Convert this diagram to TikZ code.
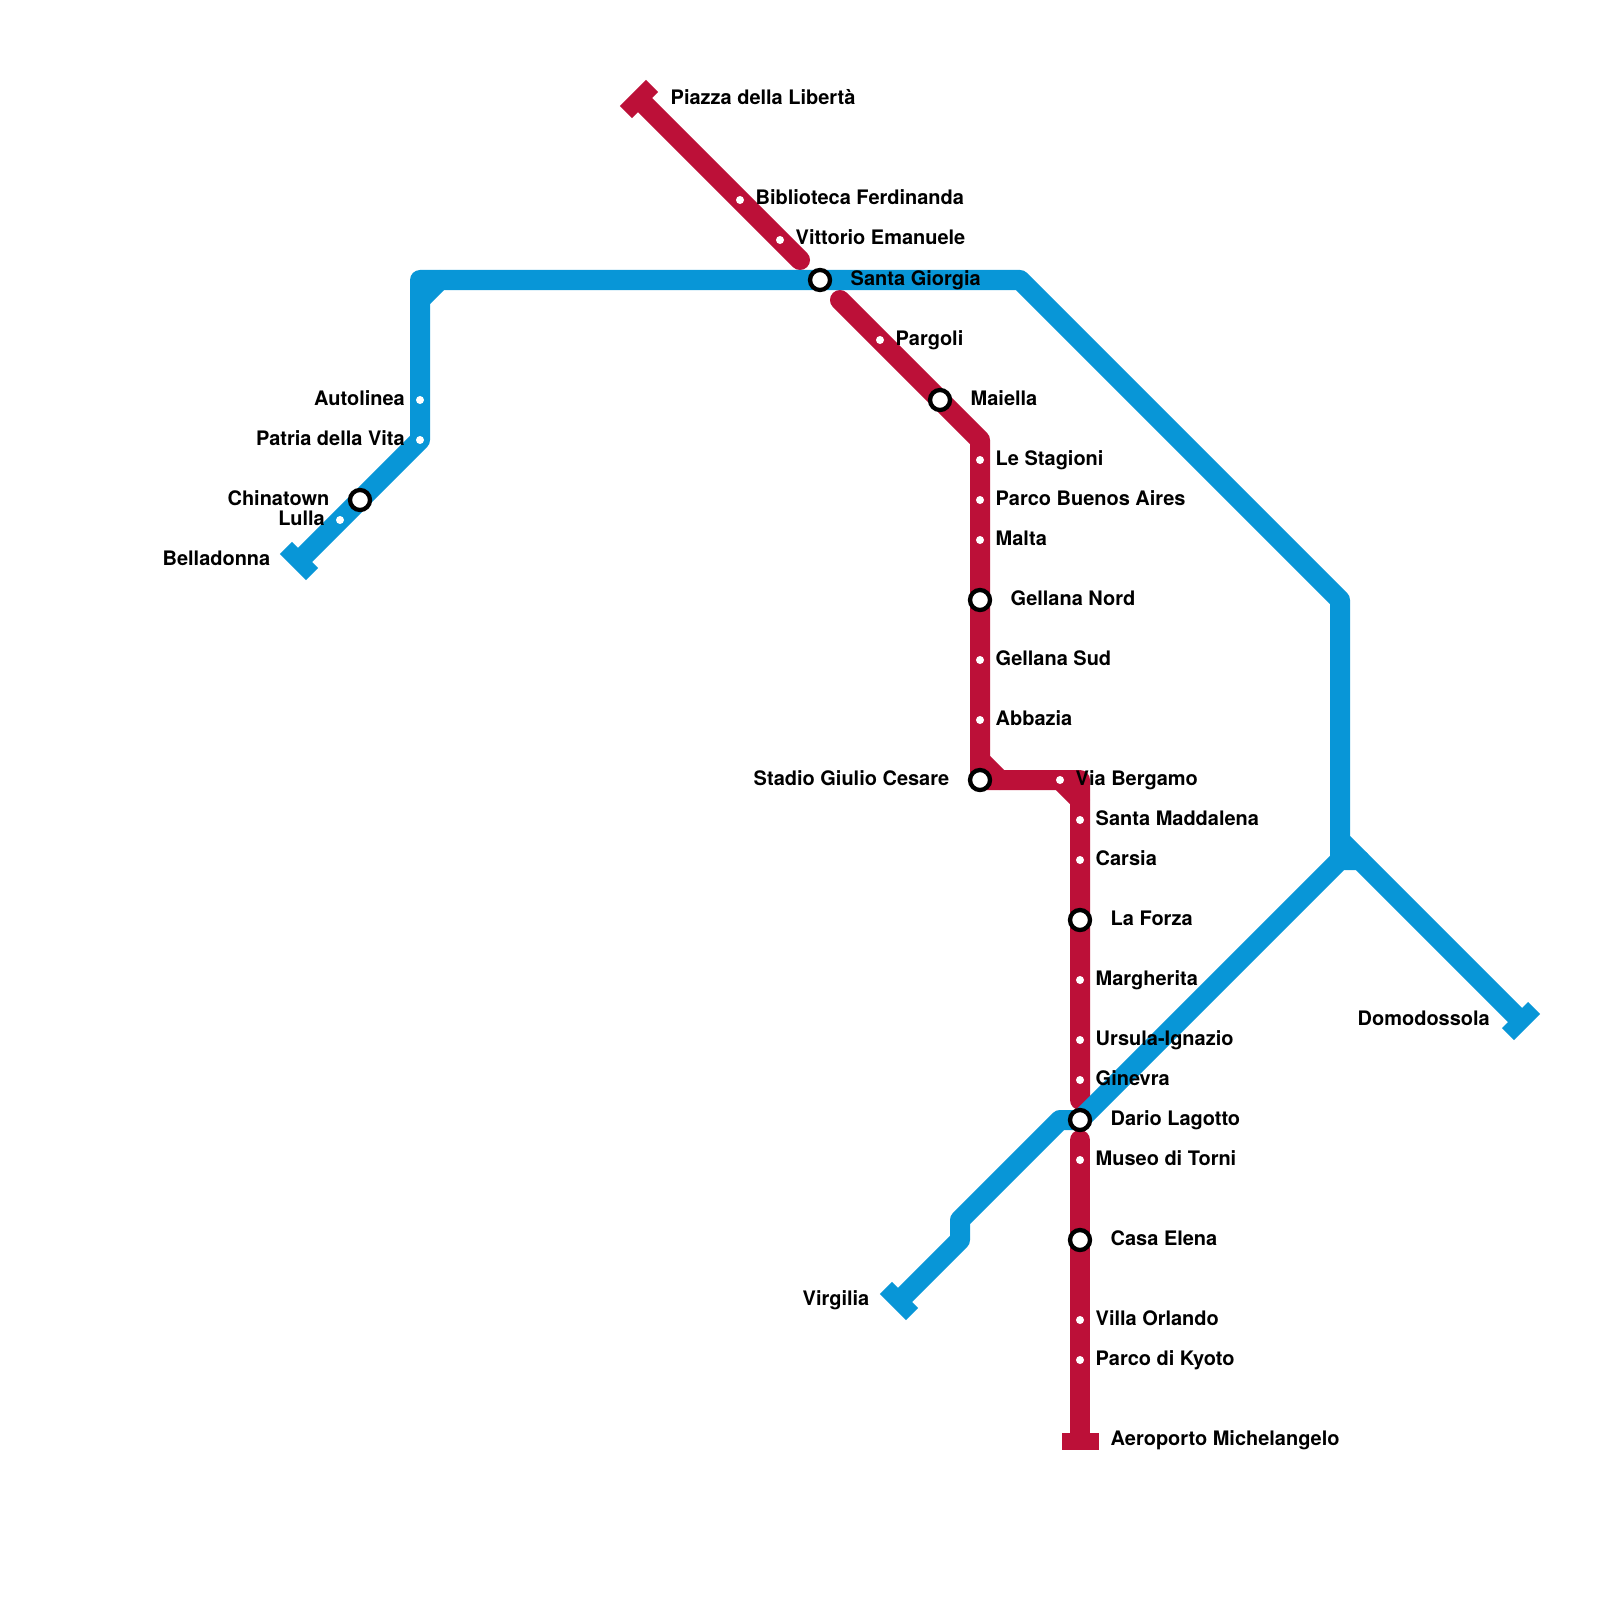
\documentclass[tikz,border=0pt]{standalone}
\usepackage{fontspec}
\setmainfont{TeX Gyre Heros}
\usetikzlibrary{backgrounds}
\definecolor{lineblue}{HTML}{0896D7}
\definecolor{linered}{HTML}{BC1038}

\begin{document}
\begin{tikzpicture}[
  x=0.01cm, y=-0.01cm,
  stopdot/.style={circle, fill=white, minimum size=0.08cm, inner sep=0pt},
  hub/.style={circle, draw=black, fill=white, line width=0.043cm, minimum size=0.2cm, inner sep=0pt},
  endbar/.style={rectangle, minimum width=0.37cm, minimum height=0.17cm, inner sep=0pt},
  lab/.style={font=\fontsize{5.68pt}{6pt}\selectfont\bfseries, inner sep=0pt},
  bluetrack/.style={lineblue, line width=0.2cm, line join=round, line cap=round},
  redtrack/.style={linered, line width=0.2cm, line join=round, line cap=round}
]
\useasboundingbox (0,0) rectangle (1600,1600);
% terminus bars
\node[endbar, fill=linered, rotate=45] (piazza) at (639,99) {};
\node[endbar, fill=linered] (aeroporto) at (1080,1441.5) {};
\node[endbar, fill=lineblue, rotate=-45] (belladonna) at (299,561) {};
\node[endbar, fill=lineblue, rotate=-45] (virgilia) at (899,1301) {};
\node[endbar, fill=lineblue, rotate=45] (domodossola) at (1521,1021) {};
\node[lab, anchor=base west] at (670,105) {Piazza della Libertà};
\node[lab, anchor=base west] at (1110,1445) {Aeroporto Michelangelo};
\node[lab, anchor=base east] at (271,565) {Belladonna};
\node[lab, anchor=base east] at (870,1305) {Virgilia};
\node[lab, anchor=base east] at (1490.5,1025) {Domodossola};
% small stops, label on the right
\foreach \n/\x/\y/\t in {biblioteca/740/200/Biblioteca Ferdinanda, vittorio/780/240/Vittorio Emanuele,
    pargoli/880/340/Pargoli, stagioni/980/460/Le Stagioni, buenosaires/980/500/Parco Buenos Aires,
    malta/980/540/Malta, gellanasud/980/660/Gellana Sud, abbazia/980/720/Abbazia,
    bergamo/1060/780/Via Bergamo, maddalena/1080/820/Santa Maddalena, carsia/1080/860/Carsia,
    margherita/1080/980/Margherita, ursula/1080/1040/Ursula-Ignazio, ginevra/1080/1080/Ginevra,
    museo/1080/1160/Museo di Torni, orlando/1080/1320/Villa Orlando, kyoto/1080/1360/Parco di Kyoto}
  \node[stopdot] (\n) at (\x,\y) {} node[lab, anchor=base west] at (\x+15,\y+5) {\t};
% small stops, label on the left
\foreach \n/\x/\y/\t in {autolinea/420/400/Autolinea, patria/420/440/Patria della Vita, lulla/340/520/Lulla}
  \node[stopdot] (\n) at (\x,\y) {} node[lab, anchor=base east] at (\x-14.5,\y+5) {\t};
% interchanges, label on the right
\foreach \n/\x/\y/\t in {giorgia/820/280/Santa Giorgia, maiella/940/400/Maiella, gellananord/980/600/Gellana Nord,
    forza/1080/920/La Forza, lagotto/1080/1120/Dario Lagotto, elena/1080/1240/Casa Elena}
  \node[hub] (\n) at (\x,\y) {} node[lab, anchor=base west] at (\x+30,\y+5) {\t};
% interchanges, label on the left
\foreach \n/\x/\y/\t in {chinatown/360/500/Chinatown, stadio/980/780/Stadio Giulio Cesare}
  \node[hub] (\n) at (\x,\y) {} node[lab, anchor=base east] at (\x-30,\y+5) {\t};
% bends
\coordinate (redstopa) at (800,260);
\coordinate (redstopb) at (840,300);
\coordinate (redturn) at (980,440);
\coordinate (redcuta) at (980,760);
\coordinate (redcutb) at (1000,780);
\coordinate (redcorner) at (1080,780);
\coordinate (redcutc) at (1080,800);
\coordinate (redstopc) at (1080,1100);
\coordinate (redstopd) at (1080,1140);
\coordinate (bluecorner) at (420,280);
\coordinate (bluecuta) at (420,300);
\coordinate (bluecutb) at (440,280);
\coordinate (bluetop) at (1020,280);
\coordinate (blueright) at (1340,600);
\coordinate (bluefork) at (1340,840);
\coordinate (bluejoin) at (1340,860);
\coordinate (bluetip) at (1360,860);
\coordinate (bluekinka) at (960,1240);
\coordinate (bluekinkb) at (960,1220);
\coordinate (bluedario) at (1060,1120);
\begin{scope}[on background layer]
  \draw[redtrack] (piazza) -- (vittorio.center) -- (redstopa);
  \draw[redtrack] (redstopb) -- (redturn) -- (stadio.center) -- (redcorner) -- (redstopc);
  \draw[redtrack] (redcuta) -- (redcutb);
  \draw[redtrack] (bergamo.center) -- (redcutc);
  \draw[redtrack] (redstopd) -- (aeroporto);
  \draw[bluetrack] (belladonna) -- (patria.center) -- (bluecorner) -- (bluetop) -- (blueright) -- (bluefork) -- (domodossola);
  \draw[bluetrack] (bluecuta) -- (bluecutb);
  \draw[bluetrack] (bluefork) -- (bluejoin);
  \draw[bluetrack] (virgilia) -- (bluekinka) -- (bluekinkb) -- (bluedario) -- (lagotto.center) -- (bluejoin) -- (bluetip);
\end{scope}
\end{tikzpicture}
\end{document}
